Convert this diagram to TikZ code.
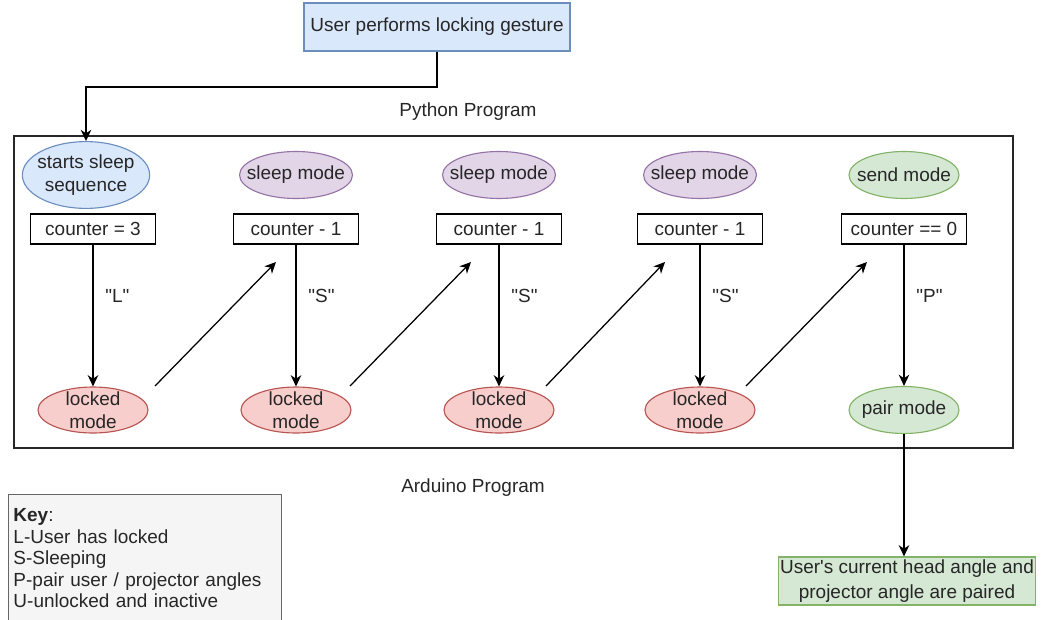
\documentclass[tikz,border=0pt]{standalone}
\usepackage{fontspec}
\setmainfont{Liberation Sans}
\usepackage{tikz}
\usetikzlibrary{arrows.meta,calc,positioning,shapes.geometric}
\definecolor{InkDark}{HTML}{262626}
\definecolor{StartFill}{HTML}{DAE8FC}
\definecolor{StartLine}{HTML}{6C8EBF}
\definecolor{SleepFill}{HTML}{E1D5E7}
\definecolor{SleepLine}{HTML}{9673A6}
\definecolor{LockFill}{HTML}{F8CECC}
\definecolor{LockLine}{HTML}{B85450}
\definecolor{PairFill}{HTML}{D5E8D4}
\definecolor{PairLine}{HTML}{82B366}
\definecolor{KeyFill}{HTML}{F5F5F5}
\definecolor{KeyLine}{HTML}{666666}
\tikzset{
  lbl/.style={font=\fontsize{13.5}{16}\selectfont, text=InkDark},
  oval/.style={lbl, ellipse, line width=0.8pt, align=center, minimum width=2.75cm, minimum height=1.175cm, inner xsep=-6.5pt, inner ysep=5.5pt},
  startoval/.style={oval, fill=StartFill, draw=StartLine, inner xsep=-2.5pt, inner ysep=2.5pt},
  sleepoval/.style={oval, fill=SleepFill, draw=SleepLine},
  lockoval/.style={oval, fill=LockFill, draw=LockLine, minimum height=1.15cm, inner xsep=0pt, inner ysep=-1.5pt},
  pairoval/.style={oval, fill=PairFill, draw=PairLine},
  countbox/.style={lbl, draw=black, line width=0.9pt, minimum width=3.125cm, minimum height=0.75cm, inner sep=0pt},
  flowarrow/.style={-{Stealth[length=8pt,width=7.5pt,inset=2.5pt]}, line width=0.9pt, black},
}

\begin{document}
\begin{tikzpicture}[x=0.025cm, y=-0.025cm]
        \useasboundingbox (0,0) rectangle (1046,619);
        \node[lbl, fill=StartFill, draw=StartLine, line width=0.8pt, minimum width=6.65cm, minimum height=1.2cm] (gest) at (437,27) {User performs locking gesture};
        \node[lbl] (pyprog) at (468,112) {Python Program};
        \node[draw=black!85, line width=1pt, minimum width=24.975cm, minimum height=7.8cm, inner sep=0pt] (frame) at (513.5,292) {};
        \node[lbl] (ardprog) at (473,488) {Arduino Program};

        % top row
        \node[startoval] (start) at (86,175) {starts sleep\\sequence};
        \node[sleepoval] (sleepA) at (296,175) {sleep mode};
        \node[sleepoval] (sleepB) at (499,175) {sleep mode};
        \node[sleepoval] (sleepC) at (700,175) {sleep mode};
        \node[pairoval] (send) at (904,175) {send mode};

        % counters
        \node[countbox] (cnt1) at (93,229) {counter = 3};
        \node[countbox] (cnt2) at (296,229) {counter - 1};
        \node[countbox] (cnt3) at (499,229) {counter - 1};
        \node[countbox] (cnt4) at (700,229) {counter - 1};
        \node[countbox] (cnt5) at (904,229) {counter == 0};

        % bottom row
        \node[lockoval] (lock1) at (93,410) {locked\\mode};
        \node[lockoval] (lock2) at (296,410) {locked\\mode};
        \node[lockoval] (lock3) at (499,410) {locked\\mode};
        \node[lockoval] (lock4) at (700,410) {locked\\mode};
        \node[pairoval] (pair) at (904,410) {pair mode};

        \node[lbl, fill=PairFill, draw=PairLine, line width=0.8pt, minimum width=6.425cm, minimum height=1.2cm, align=center, inner sep=1pt, font=\fontsize{13.5}{18}\selectfont] (paired) at (907,581) {User\textquotesingle s current head angle and\\projector angle are paired};

        \node[lbl, fill=KeyFill, draw=KeyLine, line width=0.8pt, anchor=north west, align=left, text width=187pt, inner xsep=3.5pt, inner ysep=10pt, font=\fontsize{13.5}{15.3}\selectfont] (key) at (8,494) {\textbf{Key}:\\L-User has locked\\S-Sleeping\\P-pair user / projector angles\\U-unlocked and inactive\par\vspace*{30pt}};

        \draw[flowarrow] (gest.south) |- ($(start.north)+(0,-54)$) -- (start.north);

        \foreach \i/\sig in {1/L, 2/S, 3/S, 4/S}
            \draw[flowarrow] (cnt\i) -- node[lbl, pos=0.36, right=5pt] {\textquotedbl\sig\textquotedbl} (lock\i);
        \draw[flowarrow] (cnt5) -- node[lbl, pos=0.36, right=5pt] {\textquotedbl P\textquotedbl} (pair);

        \foreach \i/\j/\s/\e in {1/2/62/20, 2/3/54/28, 3/4/47/35, 4/5/46/37}
            \draw[flowarrow] ($(lock\i.center)+(\s,-24)$) -- ($(cnt\j.center)+(-\e,33)$);

        \draw[flowarrow] (pair.south) -- (pair.south |- paired.north);
    \end{tikzpicture}
\end{document}
